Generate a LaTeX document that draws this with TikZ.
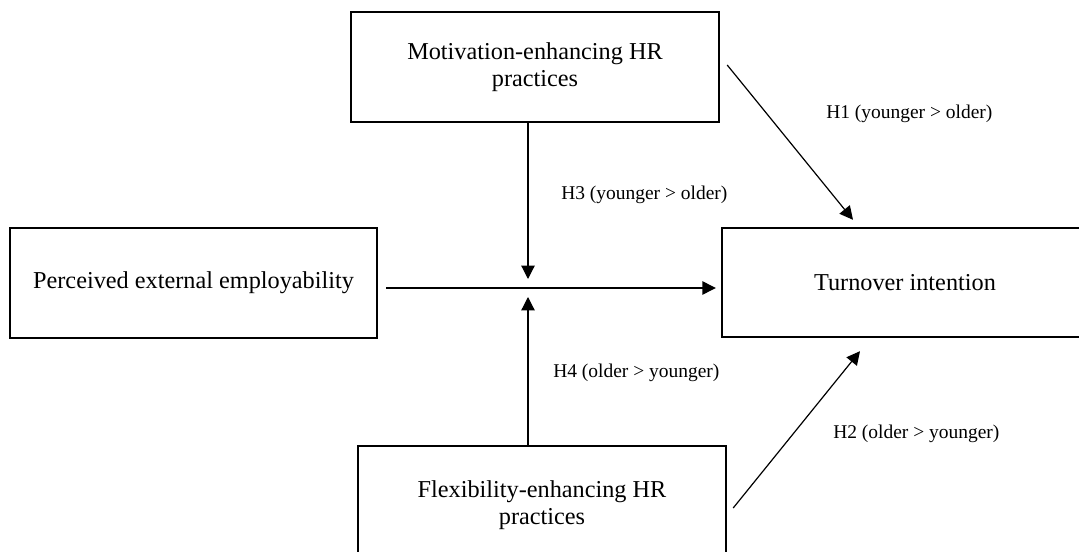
\documentclass[tikz,border=0pt]{standalone}
\usepackage{fontspec}
\setmainfont{Liberation Serif}
\usetikzlibrary{arrows.meta}
\tikzset{
  box/.style={draw=black, line width=1.8pt, fill=white, align=center, inner sep=0pt,
    font=\fontsize{18.2}{20.5}\selectfont},
  arr/.style={draw=black, line width=0.9pt, -{Triangle[length=10pt,width=10pt]}},
  lbl/.style={anchor=west, inner sep=0pt, font=\fontsize{14.6}{17}\selectfont}
}
\begin{document}
\begin{tikzpicture}[x=0.75pt,y=-0.75pt]
\useasboundingbox[fill=white] (0,0) rectangle (1079,552);
\node[box, minimum width=276pt, minimum height=82.5pt] (top) at (535,67) {Motivation-enhancing HR\\practices};
\node[box, minimum width=275.25pt, minimum height=82.5pt] (left) at (193.5,283) {Perceived external employability};
\node[box, minimum width=274.5pt, minimum height=81.75pt] (right) at (905,282.5) {Turnover intention};
\node[box, minimum width=276pt, minimum height=88.5pt] (bottom) at (542,505) {Flexibility-enhancing HR\\practices};
\coordinate (j) at (528,288);
\draw[arr] ([xshift=6pt]left.east |- j) -- ([xshift=-3.75pt]right.west |- j);
\draw[arr] (top.south -| j) -- ([yshift=6.75pt]j);
\draw[arr] (bottom.north -| j) -- ([yshift=-6.75pt]j);
\draw[arr] ([xshift=5.25pt,yshift=1.5pt]top.east) -- ([xshift=-39pt,yshift=5.25pt]right.north);
\draw[arr] ([xshift=4.5pt,yshift=-2.25pt]bottom.east) -- ([xshift=-33.75pt,yshift=-9.75pt]right.south);
\node[lbl] (h1) at (826,114) {H1 (younger > older)};
\node[lbl] (h3) at (561,195) {H3 (younger > older)};
\node[lbl] (h4) at (553,373) {H4 (older > younger)};
\node[lbl] (h2) at (833,434) {H2 (older > younger)};
\end{tikzpicture}
\end{document}
